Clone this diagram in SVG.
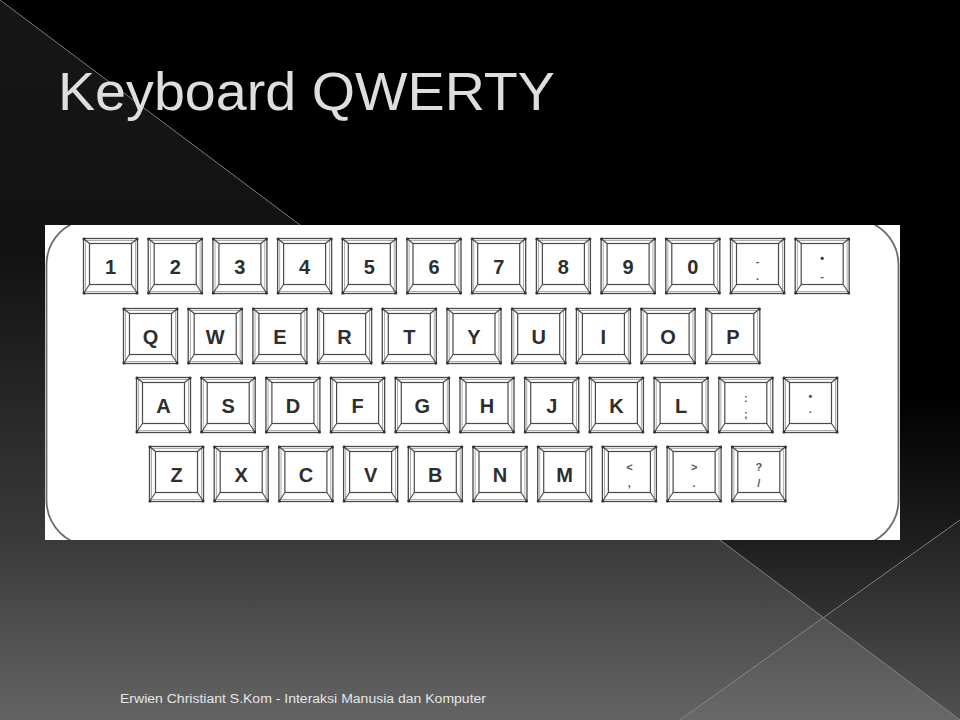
<svg xmlns="http://www.w3.org/2000/svg" xmlns:xlink="http://www.w3.org/1999/xlink" width="960" height="720" viewBox="0 0 960 720">
<defs>
<linearGradient id="bgDark" gradientUnits="userSpaceOnUse" x1="0" y1="0" x2="0" y2="720">
<stop offset="0" stop-color="#000"/><stop offset="0.55" stop-color="#000"/><stop offset="0.75" stop-color="#1e1e1e"/><stop offset="1" stop-color="#4c4c4c"/>
</linearGradient>
<linearGradient id="bgLight" gradientUnits="userSpaceOnUse" x1="0" y1="0" x2="0" y2="720">
<stop offset="0" stop-color="#161616"/><stop offset="0.35" stop-color="#121212"/><stop offset="0.75" stop-color="#3a3a3a"/><stop offset="1" stop-color="#646464"/>
</linearGradient>
<clipPath id="kbClip"><rect x="45" y="225" width="855" height="315"/></clipPath>
<g id="keycap">
<rect x="0.5" y="0.5" width="54" height="55" fill="#fff" stroke="#4a4a4a" stroke-width="1.3"/>
<rect x="2.6" y="2.6" width="49.8" height="50.8" fill="none" stroke="#9a9a9a" stroke-width="0.8"/>
<rect x="6.5" y="5.5" width="42" height="41" fill="none" stroke="#4a4a4a" stroke-width="1.2"/>
<path d="M0.5 0.5L6.5 5.5M54.5 0.5L48.5 5.5M0.5 55.5L6.5 46.5M54.5 55.5L48.5 46.5" stroke="#4a4a4a" stroke-width="1.1"/>
<circle cx="1" cy="1" r="1.5" fill="#333"/><circle cx="54" cy="1" r="1.5" fill="#333"/>
<circle cx="1" cy="55" r="1.5" fill="#333"/><circle cx="54" cy="55" r="1.5" fill="#333"/>
</g>
</defs>
<style>
.k{font-family:"Liberation Sans",Arial,sans-serif;font-size:20px;font-weight:bold;fill:#2e2e2e;text-anchor:middle}
.s{font-family:"Liberation Sans",Arial,sans-serif;font-size:11px;font-weight:bold;fill:#555;text-anchor:middle}
.title{font-family:"Liberation Sans",Arial,sans-serif;font-size:54px;fill:#dedede}
.foot{font-family:"Liberation Sans",Arial,sans-serif;font-size:12.5px;fill:#e6e6e6}
.deco{stroke:#8a8a8a;stroke-width:0.9;fill:none}
</style>
<g id="background">
<rect x="0" y="0" width="960" height="720" fill="url(#bgDark)"/>
<polygon points="0,0 960,720 0,720" fill="url(#bgLight)"/>
<polygon points="960,520 960,720 680,720" fill="#fff" opacity="0.03"/>
<line class="deco" x1="0" y1="0" x2="960" y2="720"/>
<line class="deco" x1="960" y1="520" x2="680" y2="720"/>
</g>
<text class="title" x="58" y="110" textLength="497" lengthAdjust="spacingAndGlyphs">Keyboard QWERTY</text>
<g id="keyboard">
<rect x="45" y="225" width="855" height="315" fill="#fff"/>
<rect x="46.5" y="219" width="852" height="327" rx="46" fill="none" stroke="#6a6a6a" stroke-width="1.8" clip-path="url(#kbClip)"/>
</g>
<g id="row1">
<g id="key-1" transform="translate(83,238)"><use xlink:href="#keycap"/><text class="k" x="27.5" y="36">1</text></g>
<g id="key-2" transform="translate(147.7,238)"><use xlink:href="#keycap"/><text class="k" x="27.5" y="36">2</text></g>
<g id="key-3" transform="translate(212.4,238)"><use xlink:href="#keycap"/><text class="k" x="27.5" y="36">3</text></g>
<g id="key-4" transform="translate(277.1,238)"><use xlink:href="#keycap"/><text class="k" x="27.5" y="36">4</text></g>
<g id="key-5" transform="translate(341.8,238)"><use xlink:href="#keycap"/><text class="k" x="27.5" y="36">5</text></g>
<g id="key-6" transform="translate(406.5,238)"><use xlink:href="#keycap"/><text class="k" x="27.5" y="36">6</text></g>
<g id="key-7" transform="translate(471.2,238)"><use xlink:href="#keycap"/><text class="k" x="27.5" y="36">7</text></g>
<g id="key-8" transform="translate(535.9,238)"><use xlink:href="#keycap"/><text class="k" x="27.5" y="36">8</text></g>
<g id="key-9" transform="translate(600.6,238)"><use xlink:href="#keycap"/><text class="k" x="27.5" y="36">9</text></g>
<g id="key-0" transform="translate(665.3,238)"><use xlink:href="#keycap"/><text class="k" x="27.5" y="36">0</text></g>
<g id="key-minus" transform="translate(730,238)"><use xlink:href="#keycap"/><text class="s" x="27.5" y="27">-</text><text class="s" x="27.5" y="42">.</text></g>
<g id="key-colon" transform="translate(794.7,238)"><use xlink:href="#keycap"/><text class="s" x="27.5" y="24" style="fill:#333">•</text><text class="s" x="27.5" y="42">-</text></g>
</g>
<g id="row2">
<g id="key-q" transform="translate(123,308)"><use xlink:href="#keycap"/><text class="k" x="27.5" y="36">Q</text></g>
<g id="key-w" transform="translate(187.7,308)"><use xlink:href="#keycap"/><text class="k" x="27.5" y="36">W</text></g>
<g id="key-e" transform="translate(252.4,308)"><use xlink:href="#keycap"/><text class="k" x="27.5" y="36">E</text></g>
<g id="key-r" transform="translate(317.1,308)"><use xlink:href="#keycap"/><text class="k" x="27.5" y="36">R</text></g>
<g id="key-t" transform="translate(381.8,308)"><use xlink:href="#keycap"/><text class="k" x="27.5" y="36">T</text></g>
<g id="key-y" transform="translate(446.5,308)"><use xlink:href="#keycap"/><text class="k" x="27.5" y="36">Y</text></g>
<g id="key-u" transform="translate(511.2,308)"><use xlink:href="#keycap"/><text class="k" x="27.5" y="36">U</text></g>
<g id="key-i" transform="translate(575.9,308)"><use xlink:href="#keycap"/><text class="k" x="27.5" y="36">I</text></g>
<g id="key-o" transform="translate(640.6,308)"><use xlink:href="#keycap"/><text class="k" x="27.5" y="36">O</text></g>
<g id="key-p" transform="translate(705.3,308)"><use xlink:href="#keycap"/><text class="k" x="27.5" y="36">P</text></g>
</g>
<g id="row3">
<g id="key-a" transform="translate(136,377)"><use xlink:href="#keycap"/><text class="k" x="27.5" y="36">A</text></g>
<g id="key-s" transform="translate(200.7,377)"><use xlink:href="#keycap"/><text class="k" x="27.5" y="36">S</text></g>
<g id="key-d" transform="translate(265.4,377)"><use xlink:href="#keycap"/><text class="k" x="27.5" y="36">D</text></g>
<g id="key-f" transform="translate(330.1,377)"><use xlink:href="#keycap"/><text class="k" x="27.5" y="36">F</text></g>
<g id="key-g" transform="translate(394.8,377)"><use xlink:href="#keycap"/><text class="k" x="27.5" y="36">G</text></g>
<g id="key-h" transform="translate(459.5,377)"><use xlink:href="#keycap"/><text class="k" x="27.5" y="36">H</text></g>
<g id="key-j" transform="translate(524.2,377)"><use xlink:href="#keycap"/><text class="k" x="27.5" y="36">J</text></g>
<g id="key-k" transform="translate(588.9,377)"><use xlink:href="#keycap"/><text class="k" x="27.5" y="36">K</text></g>
<g id="key-l" transform="translate(653.6,377)"><use xlink:href="#keycap"/><text class="k" x="27.5" y="36">L</text></g>
<g id="key-semicolon" transform="translate(718.3,377)"><use xlink:href="#keycap"/><text class="s" x="27.5" y="25">:</text><text class="s" x="27.5" y="41">;</text></g>
<g id="key-quote" transform="translate(783,377)"><use xlink:href="#keycap"/><text class="s" x="27.5" y="23">•</text><text class="s" x="27.5" y="39">·</text></g>
</g>
<g id="row4">
<g id="key-z" transform="translate(149,446)"><use xlink:href="#keycap"/><text class="k" x="27.5" y="36">Z</text></g>
<g id="key-x" transform="translate(213.7,446)"><use xlink:href="#keycap"/><text class="k" x="27.5" y="36">X</text></g>
<g id="key-c" transform="translate(278.4,446)"><use xlink:href="#keycap"/><text class="k" x="27.5" y="36">C</text></g>
<g id="key-v" transform="translate(343.1,446)"><use xlink:href="#keycap"/><text class="k" x="27.5" y="36">V</text></g>
<g id="key-b" transform="translate(407.8,446)"><use xlink:href="#keycap"/><text class="k" x="27.5" y="36">B</text></g>
<g id="key-n" transform="translate(472.5,446)"><use xlink:href="#keycap"/><text class="k" x="27.5" y="36">N</text></g>
<g id="key-m" transform="translate(537.2,446)"><use xlink:href="#keycap"/><text class="k" x="27.5" y="36">M</text></g>
<g id="key-comma" transform="translate(601.9,446)"><use xlink:href="#keycap"/><text class="s" x="27.5" y="25">&lt;</text><text class="s" x="27.5" y="41">,</text></g>
<g id="key-period" transform="translate(666.6,446)"><use xlink:href="#keycap"/><text class="s" x="27.5" y="25">&gt;</text><text class="s" x="27.5" y="41">.</text></g>
<g id="key-slash" transform="translate(731.3,446)"><use xlink:href="#keycap"/><text class="s" x="27.5" y="25">?</text><text class="s" x="27.5" y="41">/</text></g>
</g>
<text class="foot" x="120" y="703" textLength="366" lengthAdjust="spacingAndGlyphs">Erwien Christiant S.Kom - Interaksi Manusia dan Komputer</text>
</svg>
